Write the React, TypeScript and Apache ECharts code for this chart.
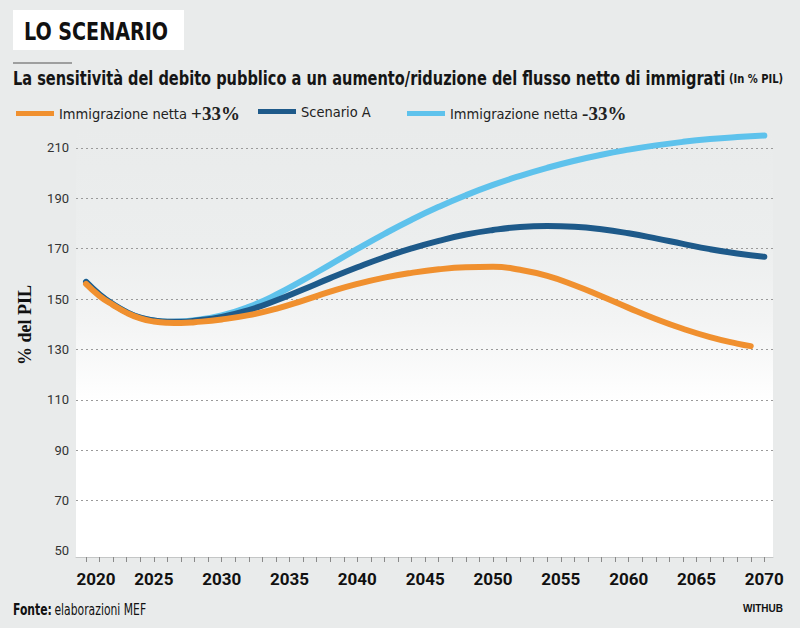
import React, { useEffect, useRef } from "react";
import * as echarts from "echarts";

const years = [2020, 2021, 2022, 2023, 2024, 2025, 2026, 2027, 2028, 2030, 2032, 2034, 2036, 2038, 2040, 2042, 2044, 2046, 2048, 2050, 2052, 2054, 2056, 2058, 2060, 2062, 2064, 2066, 2068, 2070];
const yearsOrange = [2020, 2021, 2022, 2023, 2024, 2025, 2026, 2027, 2028, 2030, 2032, 2034, 2036, 2038, 2040, 2042, 2044, 2046, 2048, 2050, 2052, 2054, 2056, 2058, 2060, 2062, 2064, 2066, 2068, 2069];

const plus33 = [156, 151.2, 147.6, 144.5, 142.3, 141.1, 140.6, 140.5, 140.8, 141.9, 143.6, 146.1, 149.4, 152.9, 156.0, 158.5, 160.4, 161.8, 162.6, 162.8, 161.6, 159.2, 155.5, 151.1, 146.5, 142.1, 138.2, 134.9, 132.3, 131.3];
const scenarioA = [156.8, 151.8, 147.9, 144.8, 142.6, 141.5, 141.0, 141.0, 141.4, 142.9, 145.6, 149.4, 153.8, 158.3, 162.6, 166.6, 170.1, 173.1, 175.6, 177.4, 178.6, 179, 178.7, 177.7, 176.1, 174.1, 171.9, 169.8, 168.1, 166.8];
const minus33 = [156.8, 151.8, 147.9, 144.8, 142.6, 141.5, 141.0, 141.1, 141.6, 143.5, 146.9, 151.7, 157.5, 163.7, 169.9, 175.9, 181.5, 186.6, 191.2, 195.3, 198.9, 202.1, 204.9, 207.3, 209.3, 211.0, 212.4, 213.5, 214.3, 214.9];

const yLabels = [50, 70, 90, 110, 130, 150, 170, 190, 210];
const yGridValues = [70, 90, 110, 130, 150, 170, 190, 210];
const xLabels = [2020, 2025, 2030, 2035, 2040, 2045, 2050, 2055, 2060, 2065, 2070];
const xTicks: number[] = [];
for (let y = 2020; y <= 2070; y++) xTicks.push(y);

const seriesNames = ["Immigrazione netta +33%", "Scenario A", "Immigrazione netta -33%"];
const colors = ["#F0902F", "#1E5A8A", "#5EC2EC"];

const NARROW = "'Liberation Sans Narrow', 'DejaVu Sans Condensed', 'Open Sans', sans-serif";
const SERIF = "'Liberation Serif', 'DejaVu Serif', serif";

const pairs = (xs: number[], vs: number[]) => xs.map((x, i) => [x, vs[i]]);

export default function App() {
  const ref = useRef<HTMLDivElement>(null);
  useEffect(() => {
    if (!ref.current) return;
    const chart = echarts.init(ref.current, undefined, { renderer: "svg" });
    const legendText = {
      fontFamily: NARROW,
      fontSize: 14.5,
      color: "#222",
      rich: {
        t: { fontFamily: NARROW, fontSize: 14.5, color: "#222" },
        n: { fontFamily: SERIF, fontSize: 19, fontWeight: "bold", color: "#222" },
      },
    };
    const legendFormatter = (name: string) => {
      const m = name.match(/^(.*?)([+-]\d+%)$/);
      if (m) return `{t|${m[1]}}{n|${m[2]}}`;
      return `{t|${name}}`;
    };
    const mkLegend = (name: string, left: number) => ({
      data: [name],
      left,
      top: 104,
      icon: "rect",
      itemWidth: 38,
      itemHeight: 5,
      itemGap: 6,
      padding: 0,
      formatter: legendFormatter,
      textStyle: legendText,
    });
    const series = [
      { name: seriesNames[2], data: pairs(years, minus33), color: colors[2], z: 2 },
      { name: seriesNames[1], data: pairs(years, scenarioA), color: colors[1], z: 3 },
      { name: seriesNames[0], data: pairs(yearsOrange, plus33), color: colors[0], z: 4 },
    ].map((s) => ({
      ...s,
      type: "line",
      smooth: 0.5,
      showSymbol: false,
      lineStyle: { width: 6, cap: "round", color: s.color },
    }));
    chart.setOption({
      animation: false,
      backgroundColor: "#e9ebeb",
      grid: {
        left: 76,
        right: 27,
        top: 128,
        bottom: 71,
        show: true,
        borderWidth: 0,
        backgroundColor: {
          type: "linear",
          x: 0,
          y: 0,
          x2: 0,
          y2: 1,
          colorStops: [
            { offset: 0, color: "#e9ebeb" },
            { offset: 0.27, color: "#eceeee" },
            { offset: 0.45, color: "#f3f4f4" },
            { offset: 0.64, color: "#ffffff" },
            { offset: 1, color: "#ffffff" },
          ],
        },
      },
      legend: [
        mkLegend(seriesNames[0], 16),
        mkLegend(seriesNames[1], 258),
        mkLegend(seriesNames[2], 407),
      ],
      xAxis: {
        type: "value",
        min: 2019.26,
        max: 2070.64,
        splitLine: { show: false },
        axisLine: { show: true, lineStyle: { color: "#c4c6c6", width: 1 } },
        axisTick: {
          show: true,
          customValues: xTicks,
          length: 5,
          lineStyle: { color: "#8a8a8a", width: 1 },
        },
        axisLabel: {
          customValues: xLabels,
          margin: 13,
          fontFamily: "Roboto, 'DejaVu Sans', sans-serif",
          fontWeight: "bold",
          fontSize: 17,
          color: "#111",
          formatter: (v: number) => (v === 2020 ? `{s|${v}}` : String(v)),
          rich: {
            s: {
              padding: [0, 0, 0, 20],
              fontFamily: "Roboto, 'DejaVu Sans', sans-serif",
              fontWeight: "bold",
              fontSize: 17,
              color: "#111",
            },
          },
        },
      },
      yAxis: {
        type: "value",
        min: 47.6,
        max: 217.9,
        axisLine: { show: false },
        axisTick: { show: false, customValues: yGridValues },
        splitLine: {
          show: true,
          lineStyle: { color: "#9a9a9a", width: 1, type: [2, 3] },
        },
        axisLabel: {
          customValues: yLabels,
          margin: 7,
          fontFamily: "Roboto, 'DejaVu Sans', sans-serif",
          fontSize: 13,
          color: "#333",
        },
      },
      series,
      graphic: [
        { type: "rect", shape: { x: 13, y: 10, width: 171, height: 40 }, style: { fill: "#ffffff" } },
        {
          type: "text",
          x: 24,
          y: 31,
          scaleX: 0.85,
          style: {
            text: "LO SCENARIO",
            fontFamily: NARROW,
            fontWeight: "bold",
            fontSize: 25,
            fill: "#111",
            verticalAlign: "middle",
          },
        },
        { type: "line", shape: { x1: 13, y1: 63, x2: 72, y2: 63 }, style: { stroke: "#555", lineWidth: 1.2 } },
        {
          type: "text",
          x: 13,
          y: 79,
          scaleX: 0.853,
          style: {
            text: "{a|La sensitività del debito pubblico a un aumento/riduzione del flusso netto di immigrati} {b|(In % PIL)}",
            verticalAlign: "middle",
            rich: {
              a: { fontFamily: NARROW, fontWeight: "bold", fontSize: 19, fill: "#151515" },
              b: { fontFamily: NARROW, fontWeight: "bold", fontSize: 13, fill: "#151515" },
            },
          },
        },
        {
          type: "text",
          x: 25,
          y: 325,
          rotation: Math.PI / 2,
          style: {
            text: "% del PIL",
            fontFamily: SERIF,
            fontWeight: "bold",
            fontSize: 18,
            fill: "#111",
            align: "center",
            verticalAlign: "middle",
          },
        },
        {
          type: "text",
          x: 13,
          y: 609,
          scaleX: 0.8,
          style: {
            text: "{b|Fonte:} {n|elaborazioni MEF}",
            verticalAlign: "middle",
            rich: {
              b: { fontFamily: NARROW, fontWeight: "bold", fontSize: 15, fill: "#111" },
              n: { fontFamily: NARROW, fontSize: 15, fill: "#111" },
            },
          },
        },
        {
          type: "text",
          x: 783,
          y: 608,
          style: {
            text: "WITHUB",
            fontFamily: "'Liberation Sans', Arial, sans-serif",
            fontWeight: "bold",
            fontSize: 10,
            fill: "#111",
            align: "right",
            verticalAlign: "middle",
          },
        },
      ],
    });
    return () => chart.dispose();
  }, []);
  return (
    <div
      ref={ref}
      style={{ position: "absolute", left: 0, top: 0, width: 800, height: 628 }}
    />
  );
}
